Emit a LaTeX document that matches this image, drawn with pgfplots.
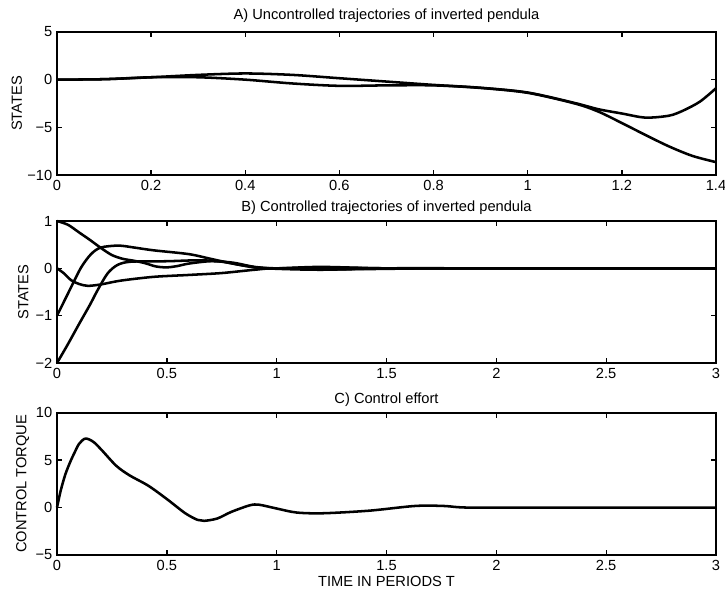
\documentclass[border=0pt]{standalone}
\usepackage{fontspec}
\setmainfont{Liberation Sans}
\usepackage{pgfplots}
\pgfplotsset{compat=1.18}
\begin{document}
\begin{tikzpicture}
\useasboundingbox (0,0) rectangle (543.75pt,446.25pt);
\pgfplotsset{
 panel/.style={
  scale only axis, width=494.25pt, height=106.7pt,
  axis line style={line width=1.2pt},
  every tick/.style={black, line width=1pt},
  major tick length=3.8pt,
  tick label style={font=\fontsize{11}{13}\selectfont},
  label style={font=\fontsize{11}{13}\selectfont},
  title style={font=\fontsize{11}{13}\selectfont, at={(0.5,1)}, anchor=base, yshift=1.25pt},
  /pgf/number format/assume math mode=true,
  xticklabel style={yshift=-0.5pt},
  clip=false,
 },
 crv/.style={black, line width=1.9pt, smooth, no markers},
}
% ---------- A ----------
\begin{axis}[panel, at={(42.75pt,315pt)}, anchor=south west, height=107.25pt,
  xmin=0, xmax=1.4, ymin=-10, ymax=5,
  xtick={0,0.2,0.4,0.6,0.8,1,1.2,1.4}, xticklabels={0,0.2,0.4,0.6,0.8,1,1.2,1.4},
  ytick={-10,-5,0,5}, yticklabels={−10,−5,0,5},
  title={A) Uncontrolled trajectories of inverted pendula},
  title style={yshift=2pt},
  ylabel={STATES}, ylabel style={at={(axis description cs:-0.061,0.5)}, anchor=center}]
\addplot[crv] coordinates {(0,0) (0.1,0.05) (0.2,0.25) (0.3,0.5) (0.4,0.65) (0.5,0.5) (0.6,0.15) (0.7,-0.2) (0.8,-0.55) (0.9,-0.85) (1.0,-1.35) (1.1,-2.45) (1.15,-3.1) (1.2,-3.55) (1.25,-3.98) (1.3,-3.78) (1.33,-3.25) (1.366,-2.3) (1.4,-0.9)};
\addplot[crv] coordinates {(0,0) (0.1,0.05) (0.2,0.25) (0.3,0.25) (0.4,0) (0.5,-0.4) (0.6,-0.65) (0.7,-0.6) (0.8,-0.6) (0.9,-0.87) (1.0,-1.38) (1.1,-2.5) (1.15,-3.35) (1.2,-4.55) (1.25,-5.8) (1.3,-7.0) (1.35,-8.0) (1.4,-8.65)};
\end{axis}
% ---------- B ----------
\begin{axis}[panel, at={(42.75pt,174pt)}, anchor=south west, height=106.5pt,
  xmin=0, xmax=3, ymin=-2, ymax=1,
  xtick={0,0.5,1,1.5,2,2.5,3}, xticklabels={0,0.5,1,1.5,2,2.5,3},
  ytick={-2,-1,0,1}, yticklabels={−2,−1,0,1},
  title={B) Controlled trajectories of inverted pendula},
  ylabel={STATES}, ylabel style={at={(axis description cs:-0.051,0.5)}, anchor=center}]
\addplot[crv] coordinates {(0,1) (0.05,0.92) (0.1,0.76) (0.15,0.6) (0.2,0.43) (0.25,0.28) (0.3,0.2) (0.35,0.16) (0.4,0.11) (0.45,0.04) (0.5,0.02) (0.55,0.05) (0.6,0.1) (0.7,0.15) (0.8,0.12) (0.9,0.03) (1.0,0.0) (1.2,0.02) (1.5,0) (2,0) (3,0)};
\addplot[crv] coordinates {(0,-1) (0.03,-0.72) (0.064,-0.4) (0.11,0.02) (0.155,0.3) (0.2,0.44) (0.28,0.48) (0.35,0.44) (0.44,0.38) (0.6,0.3) (0.7,0.2) (0.8,0.1) (0.9,0.02) (1.0,0) (1.2,0.03) (1.5,0.0) (2,0) (3,0)};
\addplot[crv] coordinates {(0,-2) (0.05,-1.6) (0.1,-1.18) (0.15,-0.77) (0.185,-0.46) (0.23,-0.11) (0.275,0.07) (0.336,0.14) (0.5,0.15) (0.65,0.17) (0.75,0.14) (0.85,0.06) (0.95,0) (1.2,-0.03) (1.5,0) (2,0) (3,0)};
\addplot[crv] coordinates {(0,0) (0.03,-0.1) (0.064,-0.25) (0.1,-0.33) (0.14,-0.37) (0.2,-0.34) (0.29,-0.26) (0.44,-0.18) (0.6,-0.14) (0.75,-0.1) (0.9,-0.03) (1.0,0) (1.3,-0.02) (1.7,0) (2,0) (3,0)};
\end{axis}
% ---------- C ----------
\begin{axis}[panel, at={(42.75pt,30pt)}, anchor=south west, height=106.7pt,
  xmin=0, xmax=3, ymin=-5, ymax=10,
  xtick={0,0.5,1,1.5,2,2.5,3}, xticklabels={0,0.5,1,1.5,2,2.5,3},
  ytick={-5,0,5,10}, yticklabels={−5,0,5,10},
  title={C) Control effort},
  xlabel={TIME IN PERIODS T}, xlabel style={yshift=3pt},
  ylabel={CONTROL TORQUE}, ylabel style={at={(axis description cs:-0.052,0.5)}, anchor=center}]
\addplot[crv] coordinates {(0,0) (0.017,1.8) (0.038,3.5) (0.06,4.8) (0.08,5.8) (0.1,6.7) (0.125,7.25) (0.145,7.2) (0.17,6.85) (0.206,6.0) (0.27,4.4) (0.33,3.4) (0.416,2.3) (0.5,0.9) (0.584,-0.6) (0.64,-1.3) (0.67,-1.4) (0.73,-1.15) (0.794,-0.45) (0.878,0.24) (0.92,0.3) (1.0,-0.1) (1.09,-0.52) (1.21,-0.6) (1.42,-0.33) (1.63,0.17) (1.76,0.17) (1.87,0) (2.2,0) (3,0)};
\end{axis}
\end{tikzpicture}
\end{document}
